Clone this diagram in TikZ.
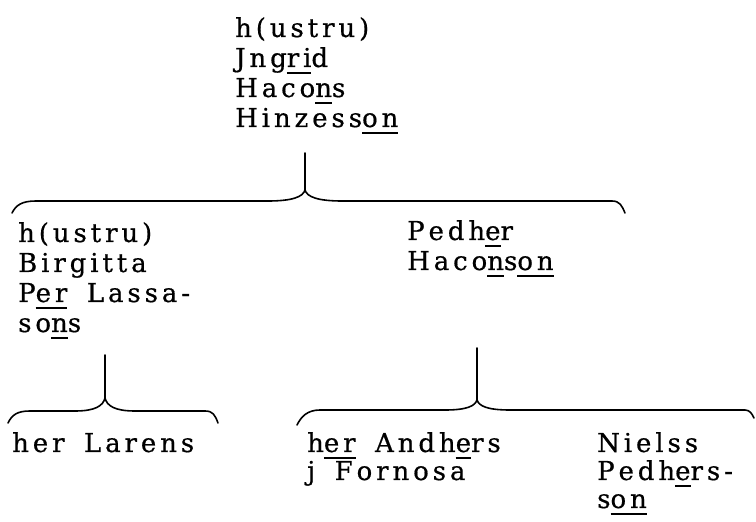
\documentclass[tikz,border=0pt]{standalone}
\usepackage{fontspec}
\setmainfont{DejaVu Serif}[LetterSpace=15,Kerning=Off,FakeBold=0.6,WordSpace=1.6]
\newcommand\uln[1]{\setbox0=\hbox{#1}\rlap{\rule[-7pt]{\wd0}{1.6pt}}\box0\relax}
\newcommand\stk[2]{\vtop{\baselineskip=#1\lineskiplimit=-100pt\lineskip=0pt #2}}
\begin{document}
\begin{tikzpicture}[x=1pt,y=1pt]
\tikzset{
  txt/.style={anchor=base west, inner sep=0pt, font=\fontsize{26}{30}\selectfont},
  brace/.style={line width=1.6pt, line cap=round, line join=round}
}
\useasboundingbox (0,0) rectangle (756,522);
% text blocks
\node[txt] (top) at (235,485) {\stk{30pt}{\hbox{h(ustru)}\hbox{Jng\uln{ri}d}\hbox{Haco\uln{n}s}\hbox{Hinzess\uln{on}}}};
\node[txt] (birg) at (18,280) {\stk{30pt}{\hbox{h(ustru)}\hbox{Birgitta}\hbox{P\uln{er} Lassa-}\hbox{so\uln{n}s}}};
\node[txt] (pedh) at (407,282) {\stk{30pt}{\hbox{Pedh\uln{e}r}\hbox{Haco\uln{n}s\uln{on}}}};
\node[txt] (lar) at (12,70) {\stk{28pt}{\hbox{her Larens}}};
\node[txt] (andh) at (307,70) {\stk{28pt}{\hbox{h\uln{er} Andh\uln{e}rs}\hbox{j Fornosa}}};
\node[txt] (niel) at (597,70) {\stk{28pt}{\hbox{Nielss}\hbox{Pedh\uln{e}rs-}\hbox{s\uln{on}}}};
% brace 1
\coordinate (b1T) at (305,369);
\coordinate (b1C) at (305,332);
\coordinate (b1L) at (12,309);
\coordinate (b1R) at (625,309);
\draw[brace] (b1T) -- (b1C);
\draw[brace] (b1L) .. controls (16,317) and (22,321) .. (36,321) -- (268,321)
  .. controls (292,321) and (303,325) .. (b1C)
  .. controls (307,325) and (318,321) .. (342,321) -- (612,321)
  .. controls (620,321) and (622,316) .. (b1R);
% brace 2
\coordinate (b2T) at (105,167);
\coordinate (b2C) at (105,124);
\coordinate (b2L) at (8,99);
\coordinate (b2R) at (218,99);
\draw[brace] (b2T) -- (b2C);
\draw[brace] (b2L) .. controls (12,107) and (17,111) .. (30,111) -- (75,111)
  .. controls (95,111) and (103,116) .. (b2C)
  .. controls (107,116) and (115,111) .. (135,111) -- (205,111)
  .. controls (213,111) and (215,107) .. (b2R);
% brace 3
\coordinate (b3T) at (477,174);
\coordinate (b3C) at (477,122);
\coordinate (b3L) at (297,97);
\coordinate (b3R) at (754,104);
\draw[brace] (b3T) -- (b3C);
\draw[brace] (b3L) .. controls (301,105) and (307,112) .. (320,112) -- (445,112)
  .. controls (467,112) and (475,116) .. (b3C)
  .. controls (479,116) and (487,112) .. (510,112) -- (745,112)
  .. controls (750,112) and (752,108) .. (b3R);
\end{tikzpicture}
\end{document}
